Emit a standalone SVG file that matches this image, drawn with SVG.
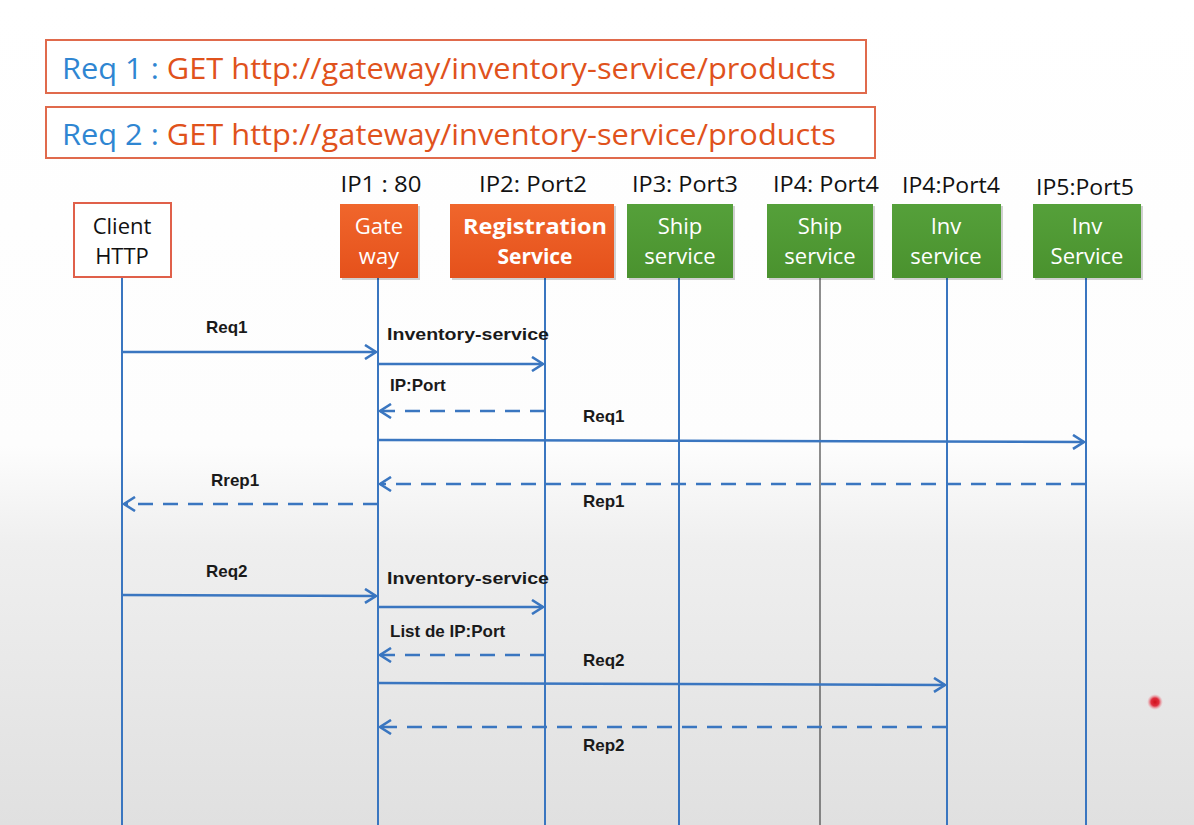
<svg xmlns="http://www.w3.org/2000/svg" width="1194" height="825" viewBox="0 0 1194 825">
<defs>
<linearGradient id="bg" x1="0" y1="0" x2="0" y2="1">
<stop offset="0" stop-color="#ffffff"/>
<stop offset="0.54" stop-color="#fdfdfd"/>
<stop offset="0.66" stop-color="#efefef"/>
<stop offset="1" stop-color="#e0e0e0"/>
</linearGradient>
<linearGradient id="og" x1="0" y1="0" x2="0" y2="1">
<stop offset="0" stop-color="#f0662c"/>
<stop offset="1" stop-color="#e5511b"/>
</linearGradient>
<linearGradient id="gg" x1="0" y1="0" x2="0" y2="1">
<stop offset="0" stop-color="#55a03a"/>
<stop offset="1" stop-color="#4a922e"/>
</linearGradient>
<marker id="ah" markerWidth="14" markerHeight="16" refX="12" refY="8" orient="auto" markerUnits="userSpaceOnUse">
<path d="M1,1 L12,8 L1,15" fill="none" stroke="#3a76c0" stroke-width="2.6"/>
</marker>
<radialGradient id="dot">
<stop offset="0" stop-color="#d0101a"/>
<stop offset="0.5" stop-color="#e03040"/>
<stop offset="1" stop-color="#f0a0a8" stop-opacity="0"/>
</radialGradient>
</defs>
<style>
.hdr{font-family:"Open Sans","Noto Sans",sans-serif;font-size:30px}
.blue{fill:#2f86d2}
.org{fill:#e0521c}
.ip{font-family:"Open Sans","Noto Sans",sans-serif;font-size:21px;fill:#111;text-anchor:middle}
.nt{font-family:"Open Sans","Noto Sans",sans-serif;font-size:22px;text-anchor:middle;fill:#fff}
.nb{font-family:"Open Sans","Noto Sans",sans-serif;font-size:21px;font-weight:bold;text-anchor:middle;fill:#fff}
.lbl{font-family:"Liberation Sans","Noto Sans",sans-serif;font-size:17px;font-weight:bold;fill:#1a1a1a}
.life{stroke:#3a76c0;stroke-width:2;fill:none}
.msg{stroke:#3a76c0;stroke-width:2.5;fill:none;marker-end:url(#ah)}
.ret{stroke:#3a76c0;stroke-width:2.5;fill:none;stroke-dasharray:15 10;marker-end:url(#ah)}
.shadow{fill:#000;opacity:0.18}
</style>
<rect x="0" y="0" width="1194" height="825" fill="url(#bg)"/>

<g id="req-boxes">
<rect x="46" y="40" width="820" height="53" fill="#fff" stroke="#e06a4c" stroke-width="2"/>
<text class="hdr" x="62" y="79" textLength="774" lengthAdjust="spacingAndGlyphs"><tspan class="blue">Req 1 : </tspan><tspan class="org">GET http://gateway/inventory-service/products</tspan></text>
<rect x="46" y="107" width="829" height="51" fill="#fff" stroke="#e06a4c" stroke-width="2"/>
<text class="hdr" x="62" y="145" textLength="774" lengthAdjust="spacingAndGlyphs"><tspan class="blue">Req 2 : </tspan><tspan class="org">GET http://gateway/inventory-service/products</tspan></text>
</g>

<g id="ip-labels">
<text class="ip" x="381" y="192" textLength="81" lengthAdjust="spacingAndGlyphs">IP1 : 80</text>
<text class="ip" x="533" y="192" textLength="108" lengthAdjust="spacingAndGlyphs">IP2: Port2</text>
<text class="ip" x="685" y="192" textLength="106" lengthAdjust="spacingAndGlyphs">IP3: Port3</text>
<text class="ip" x="826" y="192" textLength="106" lengthAdjust="spacingAndGlyphs">IP4: Port4</text>
<text class="ip" x="951" y="193" textLength="98" lengthAdjust="spacingAndGlyphs">IP4:Port4</text>
<text class="ip" x="1085" y="195" textLength="98" lengthAdjust="spacingAndGlyphs">IP5:Port5</text>
</g>

<g id="lifelines">
<line class="life" x1="122" y1="277" x2="122" y2="825"/>
<line class="life" x1="378" y1="278" x2="378" y2="825"/>
<line class="life" x1="545" y1="278" x2="545" y2="825"/>
<line class="life" x1="679" y1="278" x2="679" y2="825"/>
<line x1="820" y1="278" x2="820" y2="825" stroke="#444" stroke-width="1.2"/>
<line class="life" x1="947" y1="278" x2="947" y2="825"/>
<line class="life" x1="1086" y1="278" x2="1086" y2="825"/>
</g>

<g id="client">
<rect x="74" y="203" width="97" height="74" fill="#fff" stroke="#e0604a" stroke-width="2"/>
<text class="nt" x="122" y="234" style="fill:#111">Client</text>
<text class="nt" x="122" y="264" style="fill:#111">HTTP</text>
</g>
<g id="gateway">
<rect class="shadow" x="342" y="206" width="78" height="74"/>
<rect x="340" y="204" width="78" height="74" fill="url(#og)"/>
<text class="nt" x="379" y="234">Gate</text>
<text class="nt" x="379" y="264">way</text>
</g>
<g id="registration">
<rect class="shadow" x="452" y="206" width="164" height="74"/>
<rect x="450" y="204" width="164" height="74" fill="url(#og)"/>
<text class="nb" x="535" y="234" textLength="144" lengthAdjust="spacingAndGlyphs">Registration</text>
<text class="nb" x="535" y="264">Service</text>
</g>
<g id="ship1">
<rect class="shadow" x="629" y="206" width="106" height="74"/>
<rect x="627" y="204" width="106" height="74" fill="url(#gg)"/>
<text class="nt" x="680" y="234">Ship</text>
<text class="nt" x="680" y="264">service</text>
</g>
<g id="ship2">
<rect class="shadow" x="769" y="206" width="106" height="74"/>
<rect x="767" y="204" width="106" height="74" fill="url(#gg)"/>
<text class="nt" x="820" y="234">Ship</text>
<text class="nt" x="820" y="264">service</text>
</g>
<g id="inv1">
<rect class="shadow" x="894" y="206" width="109" height="74"/>
<rect x="892" y="204" width="109" height="74" fill="url(#gg)"/>
<text class="nt" x="946" y="234">Inv</text>
<text class="nt" x="946" y="264">service</text>
</g>
<g id="inv2">
<rect class="shadow" x="1035" y="206" width="108" height="74"/>
<rect x="1033" y="204" width="108" height="74" fill="url(#gg)"/>
<text class="nt" x="1087" y="234">Inv</text>
<text class="nt" x="1087" y="264">Service</text>
</g>

<g id="connectors">
<line class="msg" x1="122" y1="352" x2="376" y2="352"/>
<line class="msg" x1="378" y1="364" x2="543" y2="364"/>
<line class="ret" x1="545" y1="411" x2="380" y2="411"/>
<line class="msg" x1="378" y1="440" x2="1084" y2="442"/>
<line class="ret" x1="1086" y1="484" x2="380" y2="484"/>
<line class="ret" x1="378" y1="504" x2="124" y2="504"/>
<line class="msg" x1="122" y1="595" x2="376" y2="596"/>
<line class="msg" x1="378" y1="607" x2="543" y2="607"/>
<line class="ret" x1="545" y1="655" x2="380" y2="655"/>
<line class="msg" x1="378" y1="683" x2="945" y2="685"/>
<line class="ret" x1="947" y1="727" x2="380" y2="727"/>
</g>

<g id="connector-labels">
<text class="lbl" x="206" y="333">Req1</text>
<text class="lbl" x="387" y="340" textLength="162" lengthAdjust="spacingAndGlyphs">Inventory-service</text>
<text class="lbl" x="390" y="391">IP:Port</text>
<text class="lbl" x="583" y="422">Req1</text>
<text class="lbl" x="211" y="486">Rrep1</text>
<text class="lbl" x="583" y="507">Rep1</text>
<text class="lbl" x="206" y="577">Req2</text>
<text class="lbl" x="387" y="584" textLength="162" lengthAdjust="spacingAndGlyphs">Inventory-service</text>
<text class="lbl" x="390" y="637">List de IP:Port</text>
<text class="lbl" x="583" y="666">Req2</text>
<text class="lbl" x="583" y="751">Rep2</text>
</g>

<circle cx="1155" cy="702" r="8" fill="url(#dot)"/>
</svg>
